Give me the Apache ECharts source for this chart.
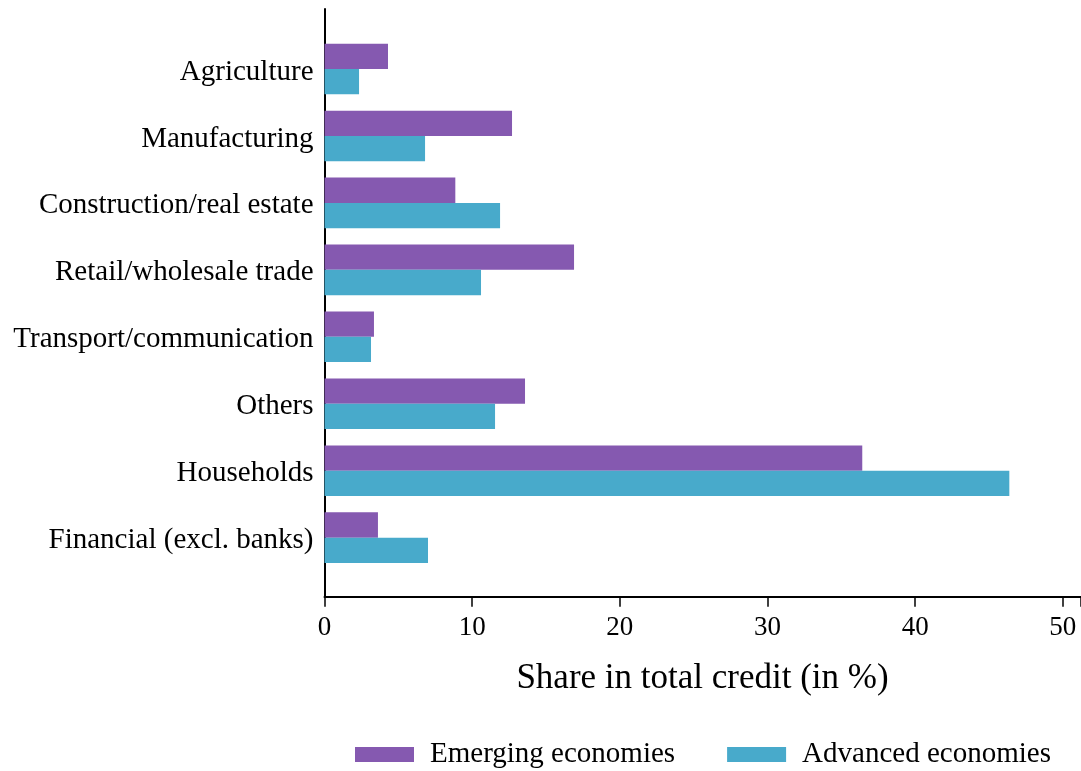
<!DOCTYPE html>
<html>
<head>
<meta charset="utf-8">
<script src="https://cdn.jsdelivr.net/npm/echarts@6/dist/echarts.min.js"></script>
<style>
html,body{margin:0;padding:0;background:#fff;}
#chart{width:1081px;height:771px;}
</style>
</head>
<body>
<div id="chart"></div>
<script>
const categories = ["Agriculture","Manufacturing","Construction/real estate","Retail/wholesale trade","Transport/communication","Others","Households","Financial (excl. banks)"];
const emerging = [4.30, 12.70, 8.86, 16.90, 3.35, 13.58, 36.42, 3.62];
const advanced = [2.34, 6.81, 11.89, 10.60, 3.15, 11.55, 46.38, 7.01];
const xTicks = [0, 10, 20, 30, 40, 50];
const seriesNames = ["Emerging economies", "Advanced economies"];
const colors = ["#8559b0", "#48aacb"];
const FONT = "Liberation Serif";

const chart = echarts.init(document.getElementById('chart'), null, {renderer: 'canvas'});
chart.setOption({
  animation: false,
  backgroundColor: '#ffffff',
  textStyle: {fontFamily: FONT, color: '#000'},
  grid: [
    {left: 324.5, right: 0.5, top: 35.5, bottom: 199.9, containLabel: false},
    {left: 324.5, right: 0.5, top: 9, bottom: 174, containLabel: false}
  ],
  xAxis: [
    {
      type: 'value', gridIndex: 0, min: 0, max: 51.2, interval: 10,
      offset: 25.6,
      axisLine: {show: true, lineStyle: {color: '#000', width: 2}},
      axisTick: {show: true, length: 10, lineStyle: {color: '#000', width: 1.5}},
      axisLabel: {color: '#000', fontFamily: FONT, fontSize: 27, margin: 18, customValues: xTicks},
      splitLine: {show: false},
      name: 'Share in total credit (in %)',
      nameLocation: 'middle', nameGap: 65,
      nameTextStyle: {color: '#000', fontFamily: FONT, fontSize: 35}
    },
    {type: 'value', gridIndex: 1, show: false, min: 0, max: 1}
  ],
  yAxis: [
    {
      type: 'category', gridIndex: 0, data: categories, inverse: true,
      axisLine: {show: false}, axisTick: {show: false},
      axisLabel: {color: '#000', fontFamily: FONT, fontSize: 29, margin: 11, verticalAlign: 'top', lineHeight: 6},
      splitLine: {show: false}
    },
    {
      type: 'value', gridIndex: 1, min: 0, max: 1,
      axisLine: {show: true, onZero: false, lineStyle: {color: '#000', width: 2}},
      axisTick: {show: false}, axisLabel: {show: false}, splitLine: {show: false}
    }
  ],
  legend: {
    left: 350, top: 735,
    itemWidth: 59, itemHeight: 15, itemGap: 52,
    icon: 'rect',
    textStyle: {color: '#000', fontFamily: FONT, fontSize: 29, padding: [0, 0, 0, 11]},
    data: seriesNames
  },
  series: [
    {name: seriesNames[0], type: 'bar', xAxisIndex: 0, yAxisIndex: 0, data: emerging,
     barWidth: 25.3, barGap: '0%', itemStyle: {color: colors[0]}},
    {name: seriesNames[1], type: 'bar', xAxisIndex: 0, yAxisIndex: 0, data: advanced,
     barWidth: 25.3, barGap: '0%', itemStyle: {color: colors[1]}}
  ]
});
</script>
</body>
</html>
